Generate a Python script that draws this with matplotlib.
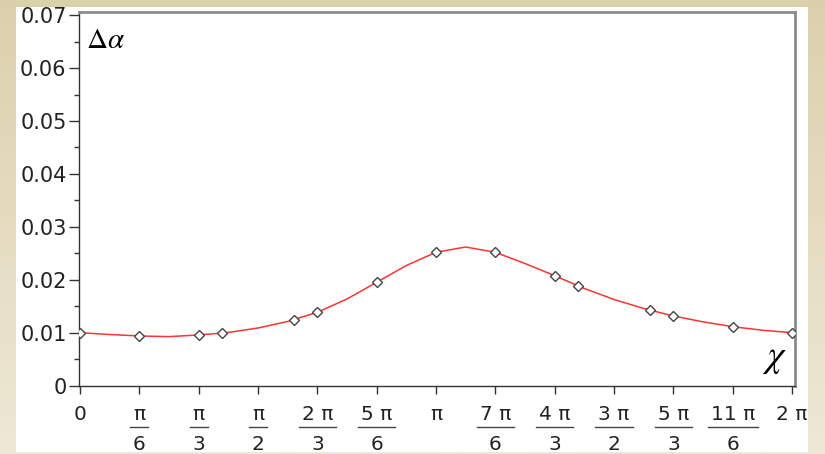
import numpy as np
import matplotlib
matplotlib.use("Agg")
import matplotlib.pyplot as plt
from matplotlib.patches import Rectangle
from matplotlib.lines import Line2D
from matplotlib.transforms import blended_transform_factory

plt.rcParams['font.family'] = ['DejaVu Sans']
plt.rcParams['mathtext.fontset'] = 'stix'

# fitted curve, sampled every pi/12 from 0 to 2 pi
curve_steps = list(range(25))
curve_vals = [0.00998, 0.00964, 0.00936, 0.00924, 0.00955, 0.01002, 0.01087,
              0.01210, 0.01384, 0.01635, 0.01951, 0.02268, 0.02518, 0.02618,
              0.02518, 0.02306, 0.02076, 0.01834, 0.01626, 0.01456, 0.01314,
              0.01204, 0.01112, 0.01045, 0.00998]

# measured points (chi in units of pi)
pts_chi = [0, 1/6, 1/3, 0.4, 0.6, 2/3, 5/6, 1, 7/6, 4/3, 1.4, 1.6, 5/3, 11/6, 2]
pts_val = [0.0099, 0.00936, 0.00955, 0.00992, 0.01238, 0.01384, 0.01951,
           0.02518, 0.02518, 0.02076, 0.01881, 0.01422, 0.01314, 0.01112, 0.0099]

# x tick labels: numerator / denominator ('' = no fraction)
tick_num = ['0', 'π', 'π', 'π', '2 π', '5 π', 'π', '7 π', '4 π', '3 π', '5 π', '11 π', '2 π']
tick_den = ['', '6', '3', '2', '3', '6', '', '6', '3', '2', '3', '6', '']

W, H = 825, 454
fig = plt.figure(figsize=(W / 100, H / 100), dpi=100)

# beige gradient backdrop
bg = fig.add_axes([0, 0, 1, 1], zorder=-10)
grad = np.linspace(0, 1, 256).reshape(-1, 1)
top_c = np.array([220, 208, 172]) / 255
bot_c = np.array([238, 232, 214]) / 255
img = top_c[None, None, :] * (1 - grad[:, :, None]) + bot_c[None, None, :] * grad[:, :, None]
bg.imshow(img, aspect='auto', extent=[0, 1, 0, 1], origin='upper')
bg.set_axis_off()

# white panel
fig.patches.append(Rectangle((16 / W, 2 / H), (808 - 16) / W, (452 - 7) / H,
                             transform=fig.transFigure, facecolor='white',
                             edgecolor='none', zorder=-5))

ax = fig.add_axes([79 / W, (H - 385.5) / H, (795 - 79) / W, (385.5 - 12) / H])
ax.set_facecolor('none')

curve_x = np.array(curve_steps) * np.pi / 12
ax.plot(curve_x, curve_vals, color='#ff3333', lw=1.1, zorder=2)
ax.plot(np.array(pts_chi) * np.pi, pts_val, linestyle='none', marker='D',
        markersize=5, markerfacecolor='white', markeredgecolor='#444444',
        markeredgewidth=1.0, zorder=3)

ax.set_xlim(-0.0088, 6.3097)
ax.set_ylim(0, 0.0706)

ax.set_yticks(np.arange(0, 0.071, 0.01))
ax.set_yticklabels(['0', '0.01', '0.02', '0.03', '0.04', '0.05', '0.06', '0.07'])
ax.set_yticks(np.arange(0.005, 0.07, 0.01), minor=True)
ax.tick_params(axis='y', which='major', length=7, width=1, pad=2,
               labelsize=15, color='#333333', labelcolor='#222222')
ax.tick_params(axis='y', which='minor', length=3.5, width=1, color='#333333')

xt = np.arange(13) * np.pi / 6
ax.set_xticks(xt)
ax.set_xticklabels([''] * len(xt))
ax.tick_params(axis='x', which='major', length=6, width=1, color='#333333')

for side in ['left', 'bottom']:
    ax.spines[side].set_color('#333333')
    ax.spines[side].set_linewidth(1)
for side in ['top', 'right']:
    ax.spines[side].set_color('#8c8c8c')
    ax.spines[side].set_linewidth(2)

# fraction-style pi labels under the axis
tr = blended_transform_factory(ax.transData, fig.transFigure)
fig.canvas.draw()
renderer = fig.canvas.get_renderer()
for x, num, den in zip(xt, tick_num, tick_den):
    t = ax.text(x, 1 - 420 / H, num, transform=tr, ha='center', va='baseline',
                fontsize=14.5, color='#222222')
    if den:
        ext = t.get_window_extent(renderer)
        half = ext.width / 2 + 3
        cx = (ext.x0 + ext.x1) / 2
        fig.add_artist(Line2D([(cx - half) / W, (cx + half) / W],
                              [1 - 427 / H, 1 - 427 / H],
                              transform=fig.transFigure, color='#444444', lw=1))
        ax.text(x, 1 - 450 / H, den, transform=tr, ha='center', va='baseline',
                fontsize=14.5, color='#222222')

ax.text(86 / W, 1 - 48 / H, r'$\Delta\alpha$', transform=fig.transFigure,
        fontsize=21, ha='left', va='baseline', color='black')
ax.text(774 / W, 1 - 366 / H, r'$\chi$', transform=fig.transFigure,
        fontsize=27, ha='center', va='baseline', color='black')

fig.savefig('out.png', dpi=100)
